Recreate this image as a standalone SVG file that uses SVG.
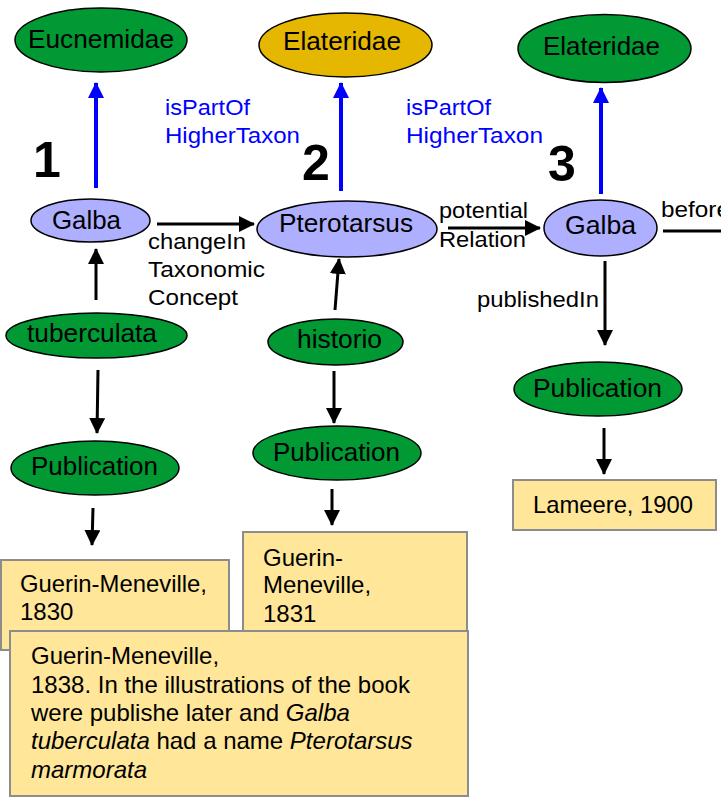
<svg xmlns="http://www.w3.org/2000/svg" width="721" height="797" viewBox="0 0 721 797">
<defs>
<marker id="ah" markerUnits="userSpaceOnUse" markerWidth="16" markerHeight="16" refX="15" refY="8" orient="auto" viewBox="0 0 16 16"><path d="M0,0 L16,8 L0,16 z" fill="#000"/></marker>
<marker id="ahb" markerUnits="userSpaceOnUse" markerWidth="16" markerHeight="16" refX="15" refY="8" orient="auto" viewBox="0 0 16 16"><path d="M0,0 L16,8 L0,16 z" fill="#0000FF"/></marker>
</defs>
<style>
text{font-family:"Liberation Sans",Arial,sans-serif;fill:#000}
.n{font-size:26px;text-anchor:start}
.lbl{font-size:22.5px}
.blue{font-size:22.5px;fill:#0000FF}
.num{font-size:50px;font-weight:bold}
.bx{font-size:24px}
.green{fill:#009933;stroke:#000;stroke-width:1.5}
.gold{fill:#E5B700;stroke:#000;stroke-width:1.5}
.lav{fill:#AFAFFF;stroke:#000;stroke-width:1.5}
.box{fill:#FFE699;stroke:#8C8C8C;stroke-width:2}
.c{stroke:#000;stroke-width:3;fill:none;marker-end:url(#ah)}
.cb{stroke:#0000FF;stroke-width:4;fill:none;marker-end:url(#ahb)}
</style>
<rect width="721" height="797" fill="#fff"/>

<g id="connectors">
<line class="cb" x1="96" y1="188" x2="96" y2="83"/>
<line class="cb" x1="341" y1="191" x2="341" y2="83"/>
<line class="cb" x1="601" y1="194" x2="601" y2="88"/>
<line class="c" x1="157" y1="224" x2="254" y2="224"/>
<line class="c" x1="448" y1="228" x2="540" y2="228"/>
<line class="c" x1="96" y1="300" x2="96" y2="249"/>
<line class="c" x1="335" y1="310" x2="339" y2="259"/>
<line class="c" x1="98" y1="370" x2="97" y2="433"/>
<line class="c" x1="93" y1="508" x2="92" y2="545"/>
<line class="c" x1="334" y1="371" x2="334" y2="423"/>
<line class="c" x1="332" y1="489" x2="332" y2="525"/>
<line class="c" x1="605" y1="261" x2="605" y2="345"/>
<line class="c" x1="604" y1="428" x2="604" y2="474"/>
<line x1="663" y1="231" x2="725" y2="231" stroke="#000" stroke-width="3"/>
<text class="blue" x="165" y="115" textLength="85" lengthAdjust="spacingAndGlyphs">isPartOf</text>
<text class="blue" x="165" y="143" textLength="135" lengthAdjust="spacingAndGlyphs">HigherTaxon</text>
<text class="blue" x="406" y="115" textLength="85" lengthAdjust="spacingAndGlyphs">isPartOf</text>
<text class="blue" x="406" y="143" textLength="137" lengthAdjust="spacingAndGlyphs">HigherTaxon</text>
<text class="lbl" x="148" y="249" textLength="98" lengthAdjust="spacingAndGlyphs">changeIn</text>
<text class="lbl" x="148" y="277" textLength="117" lengthAdjust="spacingAndGlyphs">Taxonomic</text>
<text class="lbl" x="148" y="305" textLength="90" lengthAdjust="spacingAndGlyphs">Concept</text>
<text class="lbl" x="439" y="218" textLength="89" lengthAdjust="spacingAndGlyphs">potential</text>
<text class="lbl" x="439" y="247" textLength="87" lengthAdjust="spacingAndGlyphs">Relation</text>
<text class="lbl" x="477" y="307" textLength="122" lengthAdjust="spacingAndGlyphs">publishedIn</text>
<text class="lbl" x="661" y="217" textLength="69" lengthAdjust="spacingAndGlyphs">before</text>
</g>

<g id="num1"><text class="num" x="33" y="177">1</text></g>
<g id="num2"><text class="num" x="302" y="180">2</text></g>
<g id="num3"><text class="num" x="548" y="181">3</text></g>

<g id="eucnemidae"><ellipse class="green" cx="101" cy="40" rx="86" ry="32"/><text class="n" x="28" y="48" textLength="146" lengthAdjust="spacingAndGlyphs">Eucnemidae</text></g>
<g id="elateridae2"><ellipse class="gold" cx="345.5" cy="45" rx="86.5" ry="32"/><text class="n" x="283" y="50" textLength="118" lengthAdjust="spacingAndGlyphs">Elateridae</text></g>
<g id="elateridae3"><ellipse class="green" cx="604.5" cy="48.5" rx="86.5" ry="34"/><text class="n" x="543" y="55" textLength="117" lengthAdjust="spacingAndGlyphs">Elateridae</text></g>

<g id="galba1"><ellipse class="lav" cx="90.5" cy="220.5" rx="59.5" ry="21.5"/><text class="n" x="52" y="229" textLength="69" lengthAdjust="spacingAndGlyphs">Galba</text></g>
<g id="pterotarsus"><ellipse class="lav" cx="347" cy="229" rx="90" ry="28"/><text class="n" x="279" y="232" textLength="134" lengthAdjust="spacingAndGlyphs">Pterotarsus</text></g>
<g id="galba3"><ellipse class="lav" cx="600.5" cy="228" rx="56.5" ry="28"/><text class="n" x="565" y="234" textLength="71" lengthAdjust="spacingAndGlyphs">Galba</text></g>

<g id="tuberculata"><ellipse class="green" cx="96.5" cy="335.5" rx="90.5" ry="22.5"/><text class="n" x="27" y="342" textLength="130" lengthAdjust="spacingAndGlyphs">tuberculata</text></g>
<g id="historio"><ellipse class="green" cx="335.5" cy="342" rx="67.5" ry="23"/><text class="n" x="297" y="348" textLength="85" lengthAdjust="spacingAndGlyphs">historio</text></g>

<g id="publication1"><ellipse class="green" cx="95" cy="468" rx="84" ry="27"/><text class="n" x="31" y="475" textLength="127" lengthAdjust="spacingAndGlyphs">Publication</text></g>
<g id="publication2"><ellipse class="green" cx="337" cy="453" rx="84" ry="27"/><text class="n" x="273" y="461" textLength="127" lengthAdjust="spacingAndGlyphs">Publication</text></g>
<g id="publication3"><ellipse class="green" cx="598" cy="389" rx="84" ry="27"/><text class="n" x="533" y="397" textLength="129" lengthAdjust="spacingAndGlyphs">Publication</text></g>

<g id="lameere"><rect class="box" x="513" y="480" width="203" height="50"/><text class="bx" x="533" y="513" textLength="160" lengthAdjust="spacingAndGlyphs">Lameere, 1900</text></g>
<g id="gm1830"><rect class="box" x="1" y="560" width="228" height="90"/><text class="bx" x="20" y="592" textLength="187" lengthAdjust="spacingAndGlyphs">Guerin-Meneville,</text><text class="bx" x="20" y="620">1830</text></g>
<g id="gm1831"><rect class="box" x="243" y="532" width="224" height="110"/><text class="bx" x="263" y="566">Guerin-</text><text class="bx" x="263" y="593">Meneville,</text><text class="bx" x="263" y="622">1831</text></g>
<g id="gm1838"><rect class="box" x="10" y="631" width="458" height="165"/>
<text class="bx" x="31" y="664">Guerin-Meneville,</text>
<text class="bx" x="31" y="693">1838. In the illustrations of the book</text>
<text class="bx" x="31" y="721">were publishe later and <tspan font-style="italic">Galba</tspan></text>
<text class="bx" x="31" y="749"><tspan font-style="italic">tuberculata</tspan> had a name <tspan font-style="italic">Pterotarsus</tspan></text>
<text class="bx" x="31" y="778"><tspan font-style="italic">marmorata</tspan></text>
</g>
</svg>
